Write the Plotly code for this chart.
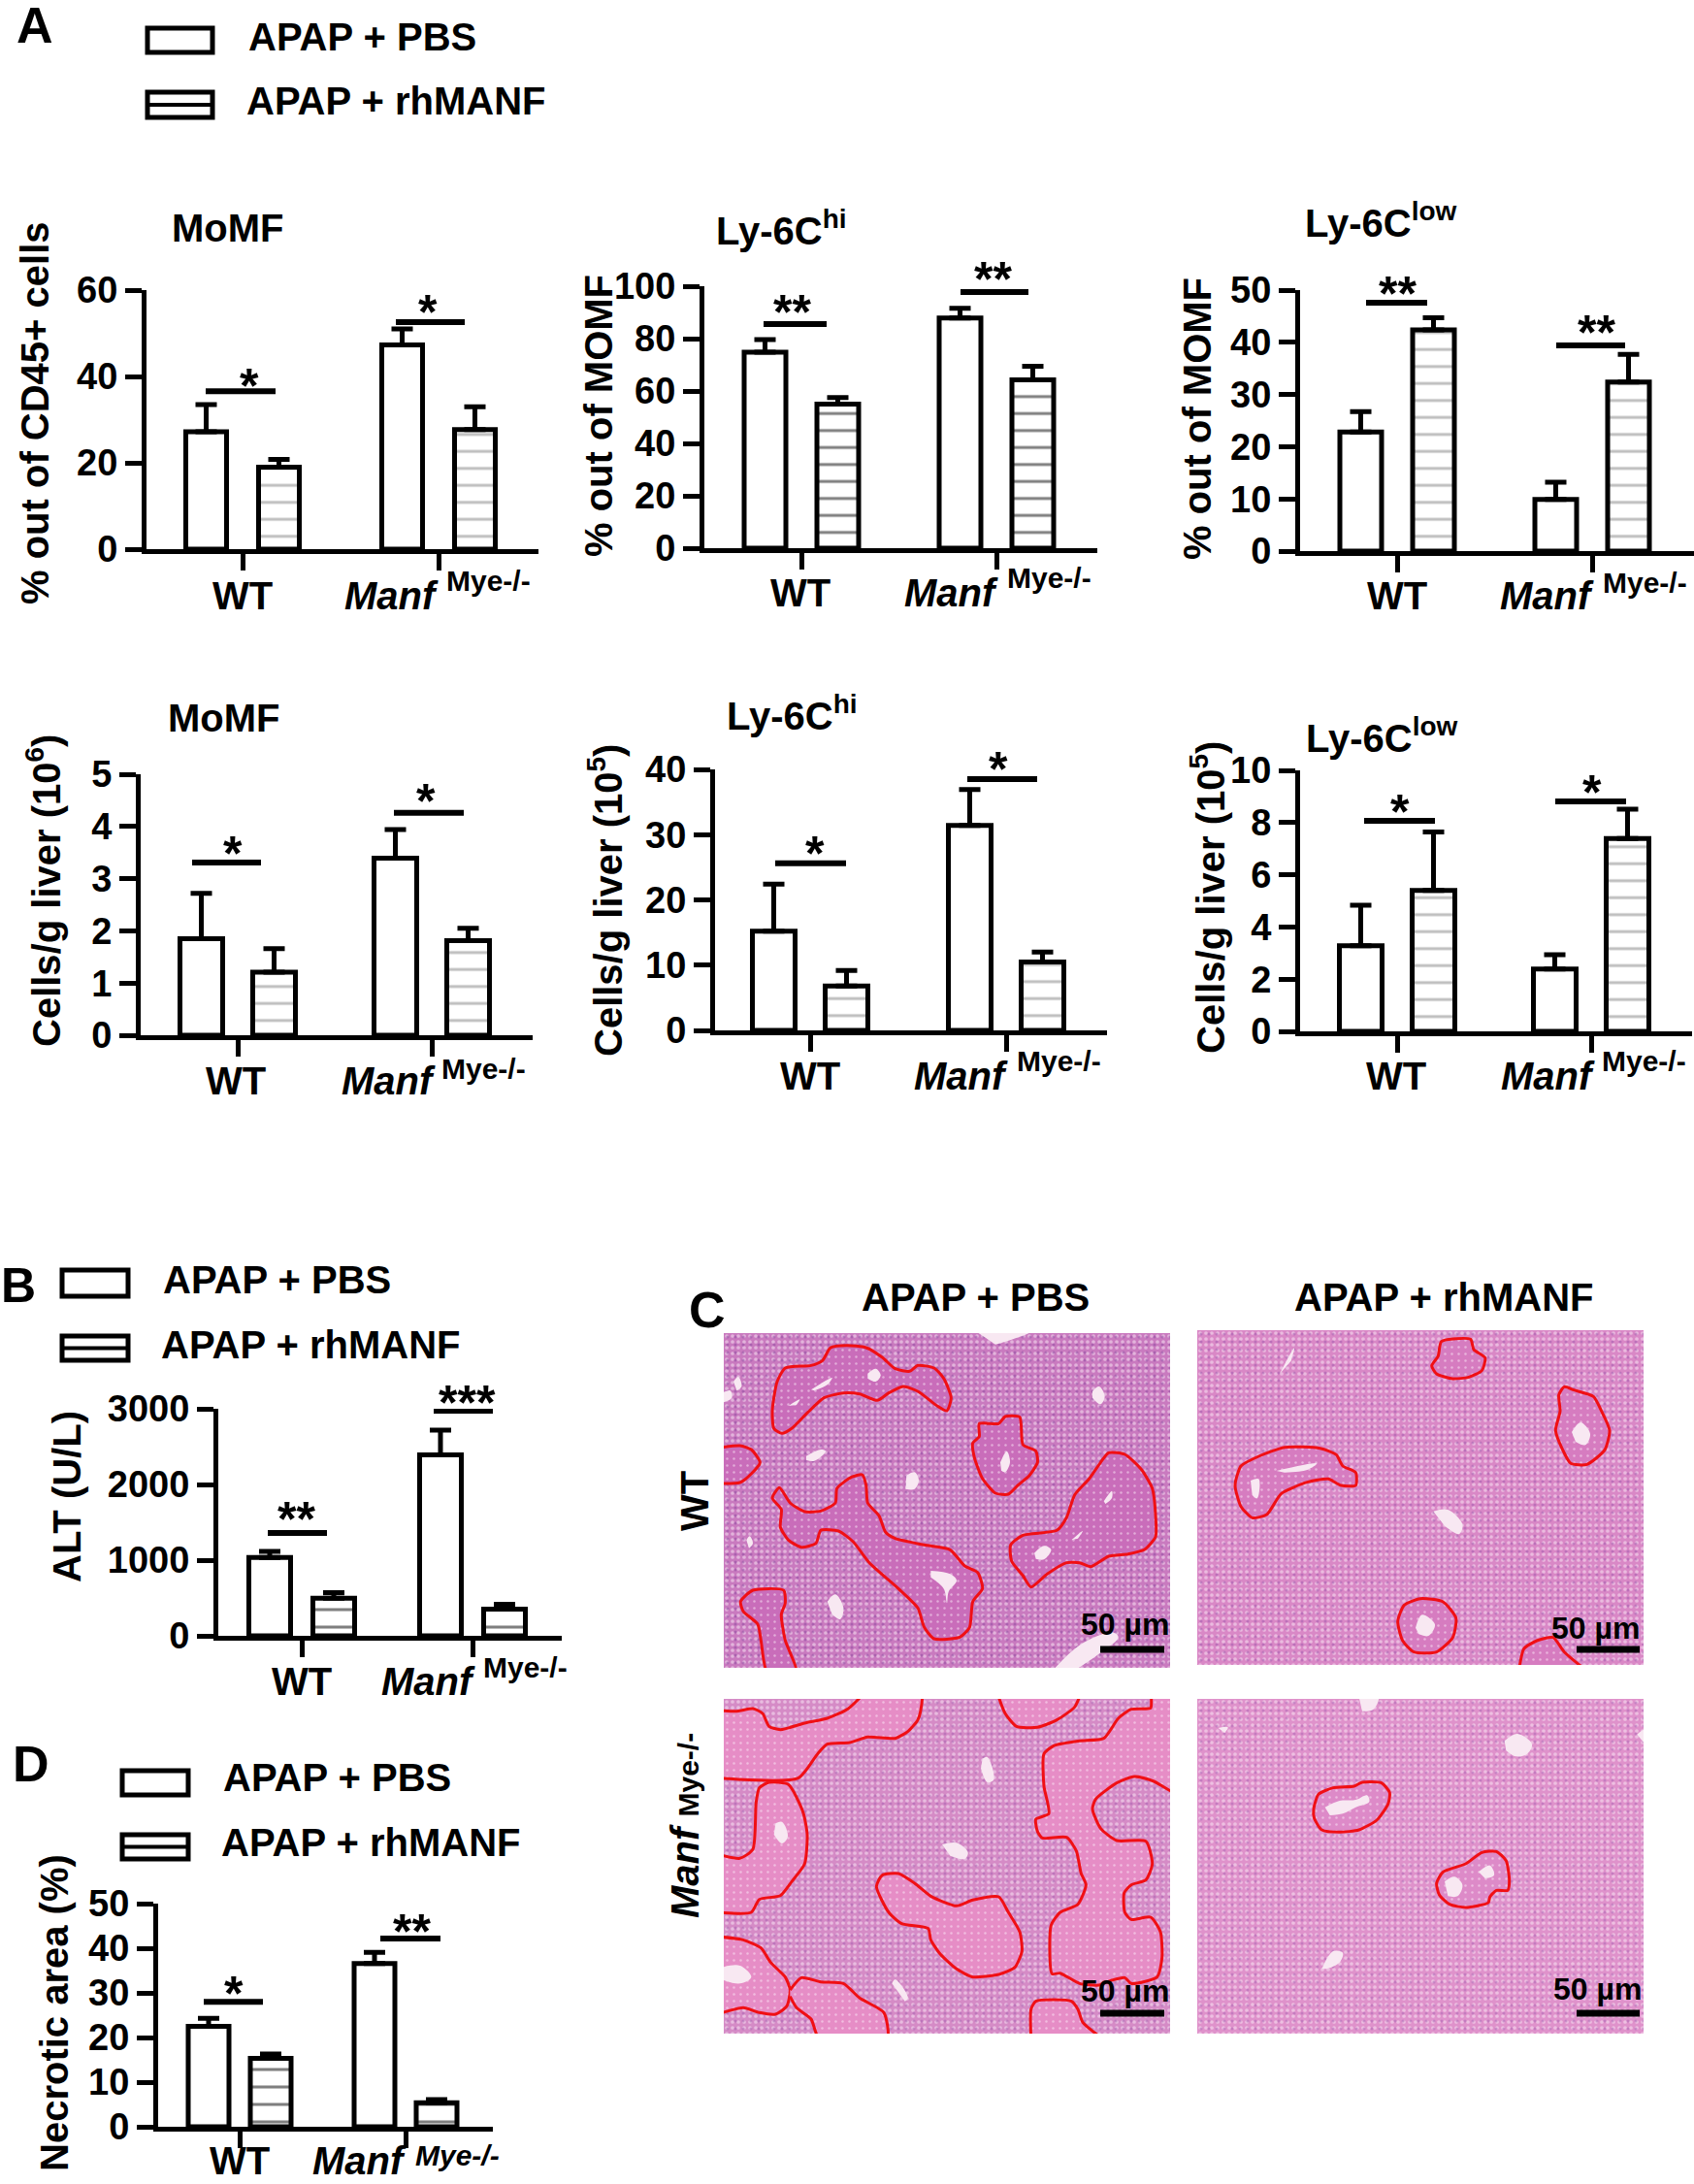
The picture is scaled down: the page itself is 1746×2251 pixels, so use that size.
import plotly.graph_objects as go

W = 1746
H = 2251
FONT = "Liberation Sans"

GROUPS = ["WT", "Manf"]

# values: [WT, Manf] for each treatment
PCT_MOMF_PBS = [27.2, 47.3]
PCT_MOMF_RH = [19.0, 27.7]
PCT_MOMF_PBS_ERR = [6.3, 3.7]
PCT_MOMF_RH_ERR = [1.8, 5.3]

PCT_HI_PBS = [74.8, 87.9]
PCT_HI_RH = [55.0, 64.3]
PCT_HI_PBS_ERR = [4.8, 3.7]
PCT_HI_RH_ERR = [2.5, 5.1]

PCT_LOW_PBS = [22.8, 9.9]
PCT_LOW_RH = [42.4, 32.4]
PCT_LOW_PBS_ERR = [3.9, 3.3]
PCT_LOW_RH_ERR = [2.3, 5.3]

CELLS_MOMF_PBS = [1.85, 3.39]
CELLS_MOMF_RH = [1.21, 1.81]
CELLS_MOMF_PBS_ERR = [0.87, 0.55]
CELLS_MOMF_RH_ERR = [0.45, 0.24]

CELLS_HI_PBS = [15.2, 31.4]
CELLS_HI_RH = [6.8, 10.5]
CELLS_HI_PBS_ERR = [7.2, 5.5]
CELLS_HI_RH_ERR = [2.4, 1.5]

CELLS_LOW_PBS = [3.28, 2.39]
CELLS_LOW_RH = [5.4, 7.39]
CELLS_LOW_PBS_ERR = [1.55, 0.55]
CELLS_LOW_RH_ERR = [2.24, 1.12]

ALT_PBS = [1035, 2390]
ALT_RH = [497, 353]
ALT_PBS_ERR = [80, 328]
ALT_RH_ERR = [73, 64]

NECROTIC_PBS = [22.5, 36.6]
NECROTIC_RH = [15.3, 5.4]
NECROTIC_PBS_ERR = [1.8, 2.5]
NECROTIC_RH_ERR = [1.0, 0.7]

SIG_MOMF = [36.6, 52.6]
SIG_HI = [85.6, 97.8]
SIG_LOW = [47.6, 39.4]
SIG_CELLS_MOMF = [3.31, 4.26]
SIG_CELLS_HI = [25.6, 38.5]
SIG_CELLS_LOW = [8.07, 8.81]
SIG_ALT = [1359, 2974]
SIG_NECROTIC = [28.0, 42.2]

# micrographs: red outlines and vessels traced on a 1380x1035 frame
P1_NECROTIC = [
    ([150, 165, 190, 270, 305, 330, 380, 440, 490, 530, 575, 600, 650, 680, 703, 690, 660, 600, 555, 510, 475, 420, 370, 310, 260, 210, 180, 155, 150],
     [240, 150, 108, 100, 85, 45, 38, 45, 75, 110, 118, 100, 108, 140, 200, 240, 225, 180, 165, 185, 208, 188, 185, 200, 245, 295, 310, 295, 240]),
    ([-20, 50, 85, 112, 85, 50, -20],
     [355, 348, 360, 400, 435, 462, 465]),
    ([150, 172, 205, 250, 300, 345, 350, 395, 428, 440, 445, 480, 500, 530, 620, 700, 745, 785, 800, 770, 760, 730, 650, 620, 600, 540, 450, 400, 355, 300, 285, 240, 200, 175, 178, 150],
     [510, 478, 525, 552, 550, 525, 480, 445, 438, 470, 525, 565, 615, 635, 655, 670, 720, 740, 790, 830, 910, 940, 945, 910, 850, 790, 710, 645, 612, 610, 650, 662, 640, 600, 545, 510]),
    ([790, 850, 870, 915, 925, 965, 970, 945, 910, 880, 840, 800, 775, 770, 790, 790],
     [280, 280, 258, 260, 345, 365, 400, 440, 470, 498, 495, 450, 385, 340, 320, 280]),
    ([887, 925, 1030, 1060, 1085, 1130, 1165, 1190, 1240, 1290, 1325, 1335, 1335, 1300, 1250, 1190, 1135, 1100, 1060, 1000, 950, 925, 890, 887],
     [655, 625, 610, 570, 500, 450, 400, 370, 375, 420, 480, 560, 630, 670, 683, 690, 722, 710, 710, 745, 785, 750, 705, 655]),
    ([52, 90, 185, 190, 178, 190, 225, 135, 115, 105, 60, 52],
     [830, 795, 795, 835, 870, 950, 1050, 1050, 950, 900, 860, 830]),
]
P1_VESSELS = [
    ([30, 45, 55, 40], [150, 135, 165, 178]),
    ([-5, 20, 25, -5], [185, 178, 200, 215]),
    ([270, 335, 320, 280], [175, 138, 160, 178]),
    ([445, 470, 485, 470, 445], [125, 110, 130, 150, 140]),
    ([200, 235, 225], [225, 205, 222]),
    ([780, 950, 890, 840], [-5, -5, 20, 35]),
    ([1140, 1160, 1178, 1165, 1140], [180, 165, 195, 220, 200]),
    ([255, 300, 315, 280, 255], [380, 360, 365, 395, 392]),
    ([565, 590, 603, 590, 562], [440, 430, 455, 482, 482]),
    ([855, 875, 885, 870, 858], [400, 365, 400, 430, 425]),
    ([960, 990, 1012, 990, 965], [680, 658, 670, 700, 698]),
    ([1075, 1110, 1095], [640, 612, 635]),
    ([1175, 1200, 1200, 1180], [520, 488, 510, 528]),
    ([640, 700, 720, 695, 690, 680, 640], [735, 745, 765, 800, 835, 790, 755]),
    ([320, 345, 370, 360, 335], [830, 808, 850, 885, 870]),
    ([70, 80, 90, 78], [640, 628, 650, 665]),
    ([1020, 1100, 1200, 1220, 1170, 1090], [1040, 965, 925, 940, 985, 1040]),
]

P2_NECROTIC = [
    ([755, 845, 855, 890, 880, 840, 790, 740, 725, 745, 755],
     [35, 28, 60, 85, 125, 145, 150, 135, 110, 80, 35]),
    ([1135, 1165, 1225, 1250, 1275, 1260, 1205, 1155, 1130, 1108, 1122, 1118, 1135],
     [175, 185, 205, 250, 310, 370, 415, 412, 370, 310, 250, 200, 175]),
    ([118, 135, 190, 270, 380, 430, 450, 490, 490, 445, 405, 340, 260, 215, 170, 135, 118, 118],
     [470, 420, 390, 362, 365, 385, 420, 440, 480, 480, 460, 470, 505, 570, 580, 545, 490, 470]),
    ([620, 640, 690, 760, 800, 790, 740, 670, 635, 620],
     [900, 850, 830, 840, 890, 950, 995, 995, 960, 900]),
    ([995, 1010, 1050, 1100, 1135, 1200],
     [1050, 985, 960, 950, 995, 1050]),
]
P2_VESSELS = [
    ([255, 300, 290], [135, 55, 95]),
    ([245, 370, 340, 270], [435, 412, 432, 440]),
    ([165, 190, 185, 170], [465, 460, 520, 510]),
    ([1158, 1185, 1215, 1200, 1170], [315, 285, 320, 355, 345]),
    ([730, 775, 820, 810, 765], [560, 555, 600, 630, 605]),
    ([675, 695, 735, 715, 685], [920, 880, 910, 945, 940]),
]

P3_NECROTIC = [
    ([-20, 610, 608, 600, 570, 530, 445, 390, 320, 290, 230, -20],
     [-20, -20, 40, 65, 100, 122, 118, 135, 140, 170, 245, 245]),
    ([845, 870, 905, 970, 1030, 1085, 1105],
     [-20, 45, 85, 88, 65, 25, -20]),
    ([-20, 50, 90, 100, 110, 140, 200, 245, 258, 250, 210, 175, 110, 85, -20],
     [480, 493, 465, 320, 275, 258, 265, 350, 420, 510, 565, 608, 620, 660, 660]),
    ([-20, 60, 115, 145, 190, 205, 195, 160, 110, 60, -20],
     [735, 745, 770, 815, 860, 900, 950, 975, 970, 955, 975]),
    ([205, 240, 300, 370, 420, 495, 505, 295, 270, 225, 205],
     [900, 862, 875, 880, 925, 970, 1050, 1050, 990, 955, 920]),
    ([472, 490, 540, 590, 640, 720, 770, 850, 880, 915, 922, 900, 850, 770, 720, 670, 640, 632, 550, 510, 472],
     [580, 545, 540, 570, 610, 640, 622, 612, 660, 720, 780, 830, 852, 860, 835, 790, 745, 710, 695, 660, 580]),
    ([1322, 1322, 1320, 1260, 1220, 1175, 1100, 1020, 990, 990, 1005, 965, 970, 985, 1060, 1090, 1105, 1120, 1095, 1040, 1012, 1015, 1040, 1100, 1160, 1200, 1240, 1260, 1340, 1355, 1350, 1320, 1260, 1240, 1238, 1260, 1305, 1325, 1305, 1215, 1165, 1140, 1150, 1215, 1270, 1330, 1400, 1400],
     [-20, 5, 28, 32, 60, 122, 130, 145, 170, 270, 355, 372, 410, 430, 428, 470, 540, 575, 635, 660, 700, 850, 848, 880, 885, 870, 862, 880, 860, 800, 720, 675, 682, 660, 600, 575, 560, 510, 440, 438, 400, 340, 310, 260, 240, 255, 290, -20]),
    ([950, 950, 965, 1075, 1095, 1110, 1170],
     [1050, 960, 935, 935, 960, 1000, 1050]),
]
P3_POCKETS = [
    ([-20, 40, 90, 120, 140, 175, 250, 320, 385, 430, -20],
     [35, 38, 30, 45, 85, 95, 75, 60, 30, -20, -20]),
]
P3_VESSELS = [
    ([800, 815, 835, 815, 795], [185, 180, 250, 258, 215]),
    ([160, 180, 198, 180, 155], [385, 380, 425, 447, 420]),
    ([675, 720, 755, 745, 700], [450, 445, 475, 495, 485]),
    ([520, 530, 570, 560], [880, 868, 925, 935]),
    ([-5, 50, 85, 50, -5], [830, 825, 860, 880, 868]),
]

P4_NECROTIC = [
    ([360, 375, 420, 485, 510, 570, 595, 590, 555, 500, 440, 385, 362, 360],
     [340, 295, 275, 270, 258, 260, 290, 325, 375, 405, 412, 405, 370, 340]),
    ([740, 760, 830, 880, 925, 955, 965, 960, 925, 905, 900, 830, 780, 748, 740],
     [570, 535, 510, 475, 472, 500, 560, 592, 592, 612, 630, 645, 635, 605, 570]),
]
P4_VESSELS = [
    ([395, 440, 490, 525, 532, 490, 450, 410], [335, 315, 312, 298, 318, 335, 355, 360]),
    ([765, 795, 820, 805, 775], [565, 550, 575, 610, 610]),
    ([870, 905, 918, 890], [535, 515, 545, 555]),
    ([950, 990, 1035, 1020, 985, 955], [130, 108, 140, 170, 178, 160]),
    ([500, 560, 545, 510], [-5, -5, 32, 38]),
    ([1360, 1385, 1385], [110, 95, 140]),
    ([385, 420, 450, 440, 400], [835, 780, 785, 815, 835]),
    ([65, 95, 85], [90, 88, 105]),
]

# axes frames in page pixels
PANELS = [
    dict(pbs=PCT_MOMF_PBS, rh=PCT_MOMF_RH, pbs_err=PCT_MOMF_PBS_ERR, rh_err=PCT_MOMF_RH_ERR, sig=SIG_MOMF,
         box=(151, 555, 299, 566), ticks=(250, 452), bar=(42, 37.5), ymax=60, dtick=20, hatch=("#808080", 17.5),
         spans=((212, 284), (408, 479)), stars=("*", "*"), star_xy=((257, 390), (441, 314))),
    dict(pbs=PCT_HI_PBS, rh=PCT_HI_RH, pbs_err=PCT_HI_PBS_ERR, rh_err=PCT_HI_RH_ERR, sig=SIG_HI,
         box=(726, 1131, 295, 565), ticks=(826, 1027), bar=(43, 37.5), ymax=100, dtick=20, hatch=("#000000", 17.5),
         spans=((787, 852), (990, 1060)), stars=("**", "**"), star_xy=((816, 314), (1023, 280))),
    dict(pbs=PCT_LOW_PBS, rh=PCT_LOW_RH, pbs_err=PCT_LOW_PBS_ERR, rh_err=PCT_LOW_RH_ERR, sig=SIG_LOW,
         box=(1340, 1746, 299, 568), ticks=(1440, 1641), bar=(43, 37.5), ymax=50, dtick=10, hatch=("#808080", 17.5),
         spans=((1408, 1471), (1604, 1675)), stars=("**", "**"), star_xy=((1440, 295), (1645, 335))),
    dict(pbs=CELLS_MOMF_PBS, rh=CELLS_MOMF_RH, pbs_err=CELLS_MOMF_PBS_ERR, rh_err=CELLS_MOMF_RH_ERR, sig=SIG_CELLS_MOMF,
         box=(145, 549, 798, 1067), ticks=(245, 445), bar=(44, 37.5), ymax=5, dtick=1, hatch=("#808080", 17.5),
         spans=((198, 269), (406, 478)), stars=("*", "*"), star_xy=((240, 872), (439, 818))),
    dict(pbs=CELLS_HI_PBS, rh=CELLS_HI_RH, pbs_err=CELLS_HI_PBS_ERR, rh_err=CELLS_HI_RH_ERR, sig=SIG_CELLS_HI,
         box=(737, 1141, 793, 1062), ticks=(835, 1037), bar=(44, 37.5), ymax=40, dtick=10, hatch=("#808080", 17.5),
         spans=((799, 872), (997, 1069)), stars=("*", "*"), star_xy=((840, 872), (1029, 785))),
    dict(pbs=CELLS_LOW_PBS, rh=CELLS_LOW_RH, pbs_err=CELLS_LOW_PBS_ERR, rh_err=CELLS_LOW_RH_ERR, sig=SIG_CELLS_LOW,
         box=(1340, 1744, 794, 1063), ticks=(1440, 1640), bar=(44, 37.5), ymax=10, dtick=2, hatch=("#808080", 17.5),
         spans=((1406, 1479), (1603, 1676)), stars=("*", "*"), star_xy=((1443, 829), (1641, 809))),
    dict(pbs=ALT_PBS, rh=ALT_RH, pbs_err=ALT_PBS_ERR, rh_err=ALT_RH_ERR, sig=SIG_ALT,
         box=(225, 579, 1452, 1686), ticks=(311, 487), bar=(43, 33), ymax=3000, dtick=1000, hatch=("#000000", 18),
         spans=((276, 337), (447, 508)), stars=("**", "***"), star_xy=((305, 1558), (481, 1438))),
    dict(pbs=NECROTIC_PBS, rh=NECROTIC_RH, pbs_err=NECROTIC_PBS_ERR, rh_err=NECROTIC_RH_ERR, sig=SIG_NECROTIC,
         box=(163, 508, 1962, 2192), ticks=(247, 418), bar=(42, 32), ymax=50, dtick=10, hatch=("#000000", 18),
         spans=((210, 271), (392, 454)), stars=("*", "**"), star_xy=((241, 2047), (424, 1983))),
]

MICROGRAPHS = [
    dict(origin=(746, 1374), necrotic=P1_NECROTIC, pockets=[], vessels=P1_VESSELS,
         tissue="#c97abf", lesion="#c96dba", grain="#8c479f"),
    dict(origin=(1234, 1371), necrotic=P2_NECROTIC, pockets=[], vessels=P2_VESSELS,
         tissue="#d988c6", lesion="#d67cc0", grain="#9d58ab"),
    dict(origin=(746, 1751), necrotic=P3_NECROTIC, pockets=P3_POCKETS, vessels=P3_VESSELS,
         tissue="#d58bc6", lesion="#e68dc6", grain="#a560b0"),
    dict(origin=(1234, 1751), necrotic=P4_NECROTIC, pockets=[], vessels=P4_VESSELS,
         tissue="#df92cb", lesion="#dd8ac8", grain="#a964b4"),
]

fig = go.Figure()
shapes = []
annotations = []


def px(x):
    return x / W


def py(y):
    return 1 - y / H


def label(text, x, y, size=40, angle=0):
    annotations.append(dict(text=text, x=px(x), y=py(y), xref="paper", yref="paper", showarrow=False,
                            xanchor="center", yanchor="middle", textangle=angle,
                            font=dict(family=FONT, size=size, color="black", weight=700)))


def legend_box(x0, x1, y0, y1, hatched):
    shapes.append(dict(type="rect", xref="paper", yref="paper", x0=px(x0), x1=px(x1), y0=py(y0), y1=py(y1),
                       line=dict(color="black", width=5), fillcolor="white"))
    if hatched:
        mid = (y0 + y1) / 2
        shapes.append(dict(type="line", xref="paper", yref="paper", x0=px(x0), x1=px(x1), y0=py(mid), y1=py(mid),
                           line=dict(color="black", width=4)))


def add_legend(box_x, y1, y2, pbs_xy, rh_xy):
    legend_box(box_x[0], box_x[1], y1[0], y1[1], False)
    legend_box(box_x[0], box_x[1], y2[0], y2[1], True)
    label("APAP + PBS", pbs_xy[0], pbs_xy[1])
    label("APAP + rhMANF", rh_xy[0], rh_xy[1])


n = 0
for p in PANELS:
    n += 1
    x0, x1, top, bottom = p["box"]
    t0, t1 = p["ticks"]
    unit = t1 - t0
    bar_w, half_pitch = p["bar"]
    width = bar_w / unit
    for k, (vals, errs, is_rh) in enumerate([(p["pbs"], p["pbs_err"], False), (p["rh"], p["rh_err"], True)]):
        side = 1 if is_rh else -1
        marker = dict(color="white", line=dict(color="black", width=5))
        if is_rh:
            marker["pattern"] = dict(shape="-", size=p["hatch"][1], solidity=0.17, fgcolor=p["hatch"][0], bgcolor="white")
        fig.add_trace(go.Bar(x=GROUPS, y=vals, width=width, offset=side * half_pitch / unit - width / 2,
                             marker=marker, showlegend=False, hoverinfo="skip",
                             error_y=dict(type="data", array=errs, arrayminus=[0, 0], symmetric=False,
                                          color="black", thickness=5, width=11),
                             xaxis=f"x{n}", yaxis=f"y{n}"))
    fig.update_layout({
        f"xaxis{n}": dict(domain=[px(x0), px(x1)], anchor=f"y{n}", type="category", categoryarray=GROUPS,
                          range=[(x0 - t0) / unit, (x1 - t0) / unit], showgrid=False, zeroline=False,
                          showline=True, linecolor="black", linewidth=5, ticks="outside", ticklen=17, tickwidth=5,
                          tickcolor="black", showticklabels=False),
        f"yaxis{n}": dict(domain=[py(bottom), py(top)], anchor=f"x{n}", range=[0, p["ymax"]], dtick=p["dtick"],
                          showgrid=False, zeroline=False, showline=True, linecolor="black", linewidth=5,
                          ticks="outside", ticklen=17, tickwidth=5, tickcolor="black",
                          tickfont=dict(family=FONT, size=38, color="black", weight=700)),
    })
    for level, span, star, xy in zip(p["sig"], p["spans"], p["stars"], p["star_xy"]):
        shapes.append(dict(type="line", xref="paper", yref=f"y{n}", x0=px(span[0]), x1=px(span[1]), y0=level, y1=level,
                           line=dict(color="black", width=6)))
        label(star, xy[0], xy[1] + 8, size=50)

for m in MICROGRAPHS:
    n += 1
    ox, oy = m["origin"]
    fig.update_layout({
        f"xaxis{n}": dict(domain=[px(ox), px(ox + 460)], anchor=f"y{n}", range=[0, 1380], visible=False),
        f"yaxis{n}": dict(domain=[py(oy + 345), py(oy)], anchor=f"x{n}", range=[1035, 0], visible=False),
    })
    frame_x = [0, 1380, 1380, 0, 0]
    frame_y = [0, 0, 1035, 1035, 0]
    common = dict(xaxis=f"x{n}", yaxis=f"y{n}", mode="lines", fill="toself", showlegend=False, hoverinfo="skip")
    speckle = dict(shape=".", size=6, solidity=0.3, fgcolor="#fbeef8", bgcolor=m["tissue"])
    fig.add_trace(go.Scatter(x=frame_x, y=frame_y, line=dict(width=0), fillcolor=m["tissue"],
                             fillpattern=speckle, **common))
    fig.add_trace(go.Scatter(x=frame_x, y=frame_y, line=dict(width=0), fillcolor="rgba(0,0,0,0)",
                             fillpattern=dict(shape=".", size=8, solidity=0.12, fgcolor=m["grain"], bgcolor="rgba(0,0,0,0)"),
                             **common))
    for xs, ys in m["necrotic"]:
        fig.add_trace(go.Scatter(x=xs, y=ys, line=dict(color="#f00f14", width=3, shape="spline", smoothing=0.6),
                                 fillcolor=m["lesion"],
                                 fillpattern=dict(shape=".", size=7, solidity=0.1, fgcolor="#fbeef8", bgcolor=m["lesion"]),
                                 **common))
    for xs, ys in m["pockets"]:
        fig.add_trace(go.Scatter(x=xs, y=ys, line=dict(color="#f00f14", width=3, shape="spline", smoothing=0.6),
                                 fillcolor=m["tissue"], fillpattern=speckle, **common))
    for xs, ys in m["vessels"]:
        fig.add_trace(go.Scatter(x=xs, y=ys, line=dict(width=0, shape="spline"), fillcolor="#f8e8f2", **common))

# panel letters
label("A", 36, 26, size=52)
label("B", 19, 1325, size=50)
label("C", 729, 1350, size=52)
label("D", 32, 1818, size=52)

add_legend((152, 219), (29, 54), (95, 121), (373, 38), (408, 104))
add_legend((64, 132), (1309, 1336), (1377, 1402), (285, 1319), (320, 1386))
add_legend((126, 194), (1825, 1850), (1891, 1916), (347, 1832), (382, 1899))

# panel titles and axis titles
label("MoMF", 235, 235)
label("Ly-6C<sup>hi</sup>", 805, 235)
label("Ly-6C<sup>low</sup>", 1423, 227)
label("MoMF", 231, 740)
label("Ly-6C<sup>hi</sup>", 816, 735)
label("Ly-6C<sup>low</sup>", 1424, 758)

label("% out of CD45+ cells", 36, 426, angle=-90)
label("% out of MOMF", 617, 429, angle=-90)
label("% out of MOMF", 1234, 432, angle=-90)
label("Cells/g liver (10<sup>6</sup>)", 45, 918, angle=-90)
label("Cells/g liver (10<sup>5</sup>)", 624, 928, angle=-90)
label("Cells/g liver (10<sup>5</sup>)", 1245, 925, angle=-90)
label("ALT (U/L)", 69, 1543, angle=-90)
label("Necrotic area (%)", 56, 2075, angle=-90)

# group labels: WT, Manf, superscript
for wt, manf, mye in [
    ((250, 614), (403, 614), (504, 598)),
    ((825, 611), (980, 611), (1081, 596)),
    ((1440, 614), (1594, 614), (1695, 600)),
    ((243, 1114), (400, 1114), (498, 1101)),
    ((835, 1109), (990, 1109), (1091, 1094)),
    ((1439, 1109), (1595, 1109), (1694, 1094)),
    ((311, 1733), (441, 1733), (541, 1718)),
    ((247, 2227), (370, 2227), (472, 2221)),
]:
    label("WT", wt[0], wt[1])
    label("<i>Manf</i>", manf[0], manf[1])
    label("<i>Mye-/-</i>" if wt[1] == 2227 else "Mye-/-", mye[0], mye[1], size=30)

# micrograph headers and scale bars
label("APAP + PBS", 1006, 1337)
label("APAP + rhMANF", 1488, 1337)
label("WT", 716, 1547, angle=-90)
label("<i>Manf</i> <span style='font-size:30px'>Mye-/-</span>", 706, 1882, angle=-90)

for text_xy, bar_x, bar_y in [
    ((1159, 1674), (1134, 1200), 1700),
    ((1644, 1678), (1625, 1690), 1700),
    ((1159, 2052), (1134, 1200), 2075),
    ((1646, 2050), (1625, 1690), 2075),
]:
    label("50 µm", text_xy[0], text_xy[1], size=32)
    shapes.append(dict(type="line", xref="paper", yref="paper", x0=px(bar_x[0]), x1=px(bar_x[1]), y0=py(bar_y), y1=py(bar_y),
                       line=dict(color="black", width=7)))

fig.update_layout(width=W, height=H, margin=dict(l=0, r=0, t=0, b=0, autoexpand=False), paper_bgcolor="white",
                  plot_bgcolor="rgba(0,0,0,0)", showlegend=False, shapes=shapes, annotations=annotations)

fig.write_html("out.html", config={"displayModeBar": False},
               post_script="document.body.style.margin='0';document.body.style.overflow='hidden';")
